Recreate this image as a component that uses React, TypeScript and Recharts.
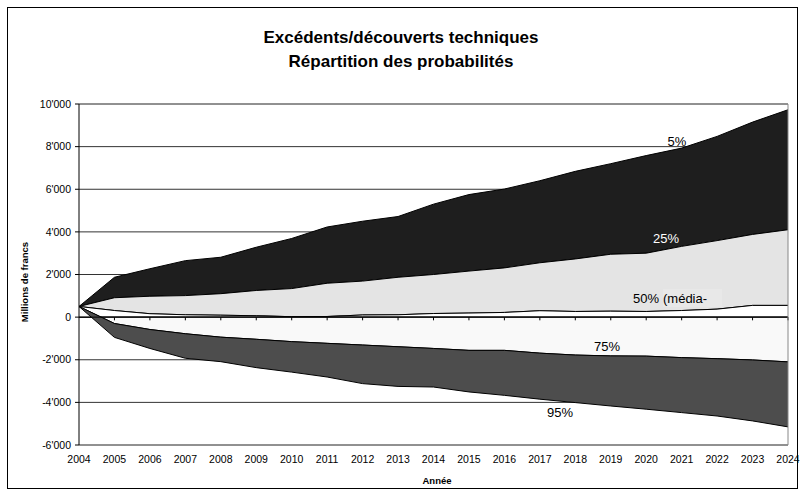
import React from 'react';
import { AreaChart, Area, XAxis, YAxis, CartesianGrid, ReferenceLine } from 'recharts';

const years = ['2004', '2005', '2006', '2007', '2008', '2009', '2010', '2011', '2012', '2013', '2014',
  '2015', '2016', '2017', '2018', '2019', '2020', '2021', '2022', '2023', '2024'];

// quantiles, millions de francs
const p5 = [500, 1870, 2270, 2650, 2810, 3280, 3690, 4230, 4500, 4720, 5300, 5750, 6010, 6400, 6840, 7200, 7580, 7930, 8480, 9150, 9730];
const p25 = [500, 910, 980, 1010, 1100, 1250, 1340, 1590, 1690, 1870, 2000, 2160, 2310, 2550, 2730, 2950, 3000, 3320, 3590, 3880, 4100];
const p50 = [500, 310, 160, 110, 90, 65, 20, 30, 100, 110, 170, 190, 220, 300, 265, 280, 265, 310, 375, 550, 550];
const p75 = [500, -300, -580, -780, -940, -1040, -1150, -1230, -1310, -1390, -1470, -1560, -1560, -1690, -1780, -1820, -1830, -1900, -1950, -2010, -2100];
const p95 = [500, -950, -1470, -1930, -2090, -2370, -2580, -2810, -3120, -3250, -3280, -3510, -3670, -3850, -4010, -4170, -4320, -4480, -4640, -4870, -5150];

const yTicks = [-6000, -4000, -2000, 0, 2000, 4000, 6000, 8000, 10000];

const data = years.map((year, i) => ({
  year,
  p5: p5[i],
  p25: p25[i],
  p50: p50[i],
  p75: p75[i],
  p95: p95[i],
}));

const fmt = (v: number) => {
  const s = Math.abs(v).toString();
  const out = s.length > 3 ? s.slice(0, s.length - 3) + "'" + s.slice(-3) : s;
  return (v < 0 ? '-' : '') + out;
};

const FONT = '"Liberation Sans", Arial, sans-serif';

const lbl = (left: number, top: number, color = '#000'): React.CSSProperties => ({
  position: 'absolute', left, top, transform: 'translate(-50%, -50%)',
  fontSize: 13, color, whiteSpace: 'nowrap', lineHeight: 1,
});

export default function App() {
  return (
    <div style={{ position: 'fixed', left: 0, top: 0, width: 802, height: 493, background: '#fff', fontFamily: FONT }}>
      <div style={{ position: 'absolute', left: 7, top: 7, width: 789, height: 480, border: '1px solid #000' }} />
      <AreaChart width={802} height={493} data={data} margin={{ top: 104, right: 14, bottom: 18, left: 20 }}>
        <CartesianGrid vertical={false} stroke="#333" />
        <XAxis dataKey="year" height={30} axisLine={false} tickLine={false} tickSize={6} tickMargin={5}
          interval={0} tick={{ fill: '#000', fontSize: 10.5, fontFamily: FONT }} />
        <YAxis type="number" domain={[-6000, 10000]} ticks={yTicks} width={59} tickFormatter={fmt}
          axisLine={{ stroke: '#000' }} tickLine={{ stroke: '#000' }} tickSize={4} tickMargin={4}
          tick={{ fill: '#000', fontSize: 10.5, fontFamily: FONT }} />
        <Area type="linear" dataKey={(d: any) => [d.p25, d.p5]} fill="#1e1e1e" fillOpacity={1} stroke="#000" strokeWidth={1} isAnimationActive={false} />
        <Area type="linear" dataKey={(d: any) => [d.p50, d.p25]} fill="#e4e4e4" fillOpacity={1} stroke="#000" strokeWidth={1} isAnimationActive={false} />
        <Area type="linear" dataKey={(d: any) => [0, d.p50]} fill="#ffffff" fillOpacity={1} stroke="#000" strokeWidth={1} isAnimationActive={false} />
        <Area type="linear" dataKey={(d: any) => [d.p75, 0]} fill="#f9f9f9" fillOpacity={1} stroke="#000" strokeWidth={1} isAnimationActive={false} />
        <Area type="linear" dataKey={(d: any) => [d.p95, d.p75]} fill="#4d4d4d" fillOpacity={1} stroke="#000" strokeWidth={1} isAnimationActive={false} />
        <ReferenceLine y={0} stroke="#000" />
        {years.slice(1).map((yr) => (
          <ReferenceLine key={yr} segment={[{ x: yr, y: 0 }, { x: yr, y: -150 }]} stroke="#000" />
        ))}
        <ReferenceLine y={10000} stroke="#888" />
        <ReferenceLine y={-6000} stroke="#888" />
        <ReferenceLine x="2024" stroke="#888" />
      </AreaChart>

      <div style={{ position: 'absolute', left: 0, width: 802, top: 26, textAlign: 'center', fontWeight: 'bold', fontSize: 17, lineHeight: '24px' }}>
        Excédents/découverts techniques<br />Répartition des probabilités
      </div>
      <div style={{ position: 'absolute', left: 24, top: 282, transform: 'translate(-50%, -50%) rotate(-90deg)', fontWeight: 'bold', fontSize: 9.5, whiteSpace: 'nowrap' }}>
        Millions de francs
      </div>
      <div style={{ position: 'absolute', left: 437, top: 480, transform: 'translate(-50%, -50%)', fontWeight: 'bold', fontSize: 9.5 }}>
        Année
      </div>

      <div style={lbl(677, 141)}>5%</div>
      <div style={lbl(666, 238, '#fff')}>25%</div>
      <div style={{ position: 'absolute', left: 633, top: 292, fontSize: 13, lineHeight: 1 }}>50%</div>
      <div style={{ position: 'absolute', left: 663, top: 289, width: 59, height: 18, overflow: 'hidden', background: '#e8e8e8', fontSize: 13, lineHeight: '13px', paddingTop: 3, boxSizing: 'border-box' }}>
        (média-<br />ne)
      </div>
      <div style={lbl(607, 346)}>75%</div>
      <div style={lbl(560, 412)}>95%</div>
    </div>
  );
}
